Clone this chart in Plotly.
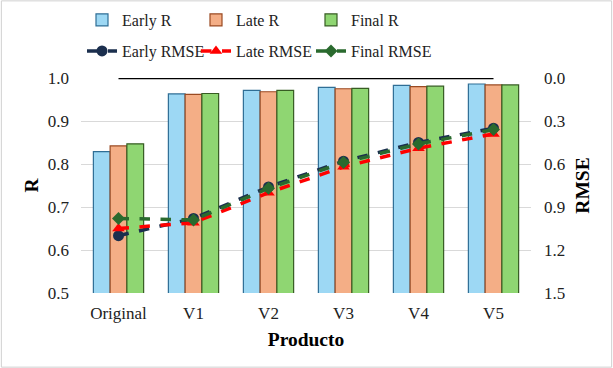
import plotly.graph_objects as go

categories = ["Original", "V1", "V2", "V3", "V4", "V5"]
early_r = [0.829, 0.963, 0.971, 0.978, 0.983, 0.986]
late_r = [0.842, 0.962, 0.968, 0.975, 0.980, 0.984]
final_r = [0.847, 0.964, 0.971, 0.976, 0.981, 0.984]
early_rmse = [1.10, 0.98, 0.76, 0.58, 0.45, 0.35]
late_rmse = [1.05, 1.01, 0.80, 0.62, 0.49, 0.39]
final_rmse = [0.98, 0.99, 0.77, 0.59, 0.46, 0.36]
ref_line = [1.0, 1.0, 1.0, 1.0, 1.0, 1.0]

FONT = "Liberation Serif"

fig = go.Figure()
fig.add_bar(x=categories, y=early_r, name="Early R", legend="legend",
            marker=dict(color="#9DD8F4", line=dict(color="#2F6E95", width=1.2)))
fig.add_bar(x=categories, y=late_r, name="Late R", legend="legend2",
            marker=dict(color="#F4AE86", line=dict(color="#9A4A22", width=1.2)))
fig.add_bar(x=categories, y=final_r, name="Final R", legend="legend3",
            marker=dict(color="#8FD672", line=dict(color="#375C23", width=1.2)))
fig.add_scatter(x=categories, y=ref_line, mode="lines", showlegend=False,
                line=dict(color="black", width=2.5), hoverinfo="skip")
fig.add_scatter(x=categories, y=early_rmse, name="Early RMSE", yaxis="y2",
                mode="lines+markers", legend="legend4",
                line=dict(color="#1B2F4E", width=3.5, dash="dash"),
                marker=dict(symbol="circle", size=11, color="#1B2F4E"))
fig.add_scatter(x=categories, y=late_rmse, name="Late RMSE", yaxis="y2",
                mode="lines+markers", legend="legend5",
                line=dict(color="#FF0000", width=3.5, dash="dash"),
                marker=dict(symbol="triangle-up", size=11, color="#FF0000"))
fig.add_scatter(x=categories, y=final_rmse, name="Final RMSE", yaxis="y2",
                mode="lines+markers", legend="legend6",
                line=dict(color="#2A6A2E", width=3.5, dash="dash"),
                marker=dict(symbol="diamond", size=10, color="#2A6A2E"))

L, R, T, B = 81, 82, 78, 75
W, H = 613, 368
pw, ph = W - L - R, H - T - B


def leg(xpx, ypx):
    return dict(orientation="h", xref="container", yref="container",
                x=xpx / W, y=1 - ypx / H, xanchor="left", yanchor="middle",
                font=dict(family=FONT, size=16, color="#222222"),
                itemwidth=30, bgcolor="rgba(0,0,0,0)")


fig.update_layout(
    width=W, height=H,
    margin=dict(l=L, r=R, t=T, b=B, autoexpand=False),
    paper_bgcolor="white", plot_bgcolor="white",
    font=dict(family=FONT, size=16, color="#222222"),
    barmode="group", bargap=0.33, bargroupgap=0,
    xaxis=dict(title=dict(text="<b>Producto</b>", font=dict(family=FONT, size=19.5, color="black"), standoff=10),
               showgrid=False, showline=False, ticks="", ticklabelstandoff=8,
               tickfont=dict(family=FONT, size=17)),
    yaxis=dict(title=dict(text="<b>R</b>", font=dict(family=FONT, size=19.5, color="black"), standoff=3),
               range=[0.5, 1.0], dtick=0.1, tickformat=".1f",
               showgrid=True, gridcolor="#D9D9D9", gridwidth=1, zeroline=False,
               ticks="", ticklabelstandoff=11, tickfont=dict(family=FONT, size=17)),
    yaxis2=dict(title=dict(text="<b>RMSE</b>", font=dict(family=FONT, size=19.5, color="black"), standoff=11),
                overlaying="y", side="right", range=[1.5, 0.0], dtick=0.3,
                tickformat=".1f", showgrid=False, zeroline=False, ticks="",
                ticklabelstandoff=12, tickfont=dict(family=FONT, size=17)),
    legend=leg(82, 20), legend2=leg(196, 20), legend3=leg(311, 20),
    legend4=leg(82, 51), legend5=leg(196, 51), legend6=leg(311, 51),
    shapes=[dict(type="rect", xref="paper", yref="paper",
                 x0=-L / pw + 0.003, x1=1 + R / pw - 0.003,
                 y0=-B / ph + 0.004, y1=1 + T / ph - 0.004,
                 line=dict(color="#D0D0D0", width=1), layer="below")],
)

fig.write_html("out.html", config={"displayModeBar": False},
               post_script="document.body.style.margin='0';")
